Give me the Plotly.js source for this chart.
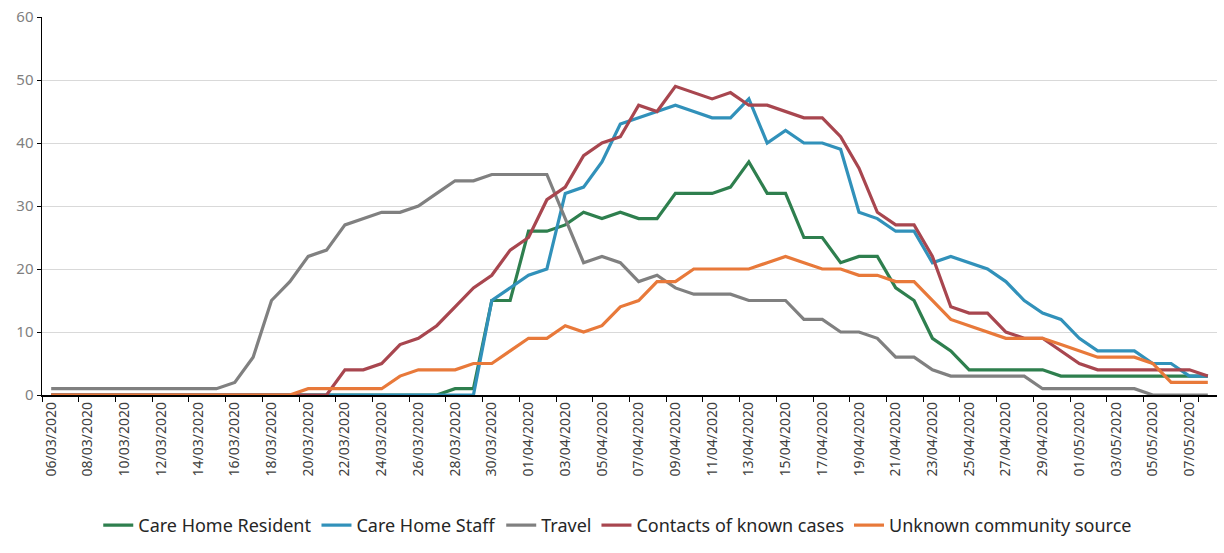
<!DOCTYPE html>
<html>
<head>
<meta charset="utf-8">
<script src="https://cdn.plot.ly/plotly-3.0.1.min.js"></script>
<style>html,body{margin:0;padding:0;background:#fff;}#chart{width:1224px;height:553px;}</style>
</head>
<body>
<div id="chart"></div>
<script>
const dates = [
"06/03/2020","07/03/2020","08/03/2020","09/03/2020","10/03/2020","11/03/2020","12/03/2020","13/03/2020",
"14/03/2020","15/03/2020","16/03/2020","17/03/2020","18/03/2020","19/03/2020","20/03/2020","21/03/2020",
"22/03/2020","23/03/2020","24/03/2020","25/03/2020","26/03/2020","27/03/2020","28/03/2020","29/03/2020",
"30/03/2020","31/03/2020","01/04/2020","02/04/2020","03/04/2020","04/04/2020","05/04/2020","06/04/2020",
"07/04/2020","08/04/2020","09/04/2020","10/04/2020","11/04/2020","12/04/2020","13/04/2020","14/04/2020",
"15/04/2020","16/04/2020","17/04/2020","18/04/2020","19/04/2020","20/04/2020","21/04/2020","22/04/2020",
"23/04/2020","24/04/2020","25/04/2020","26/04/2020","27/04/2020","28/04/2020","29/04/2020","30/04/2020",
"01/05/2020","02/05/2020","03/05/2020","04/05/2020","05/05/2020","06/05/2020","07/05/2020","08/05/2020"
];
const careHomeResident = [
0,0,0,0,0,0,0,0,0,0,0,0,0,0,0,0,0,0,0,0,0,0,1,1,
15,15,26,26,27,29,28,29,28,28,32,32,32,33,37,32,32,25,25,21,22,22,17,15,9,7,
4,4,4,4,4,3,3,3,3,3,3,3,3,3
];
const careHomeStaff = [
0,0,0,0,0,0,0,0,0,0,0,0,0,0,0,0,0,0,0,0,0,0,0,0,
15,17,19,20,32,33,37,43,44,45,46,45,44,44,47,40,42,40,40,39,29,28,26,26,21,22,
21,20,18,15,13,12,9,7,7,7,5,5,3,3
];
const travel = [
1,1,1,1,1,1,1,1,1,1,2,6,15,18,22,23,27,28,29,29,30,32,34,34,
35,35,35,35,28,21,22,21,18,19,17,16,16,16,15,15,15,12,12,10,10,9,6,6,4,3,
3,3,3,3,1,1,1,1,1,1,0,0,0,0
];
const contactsKnown = [
0,0,0,0,0,0,0,0,0,0,0,0,0,0,0,0,4,4,5,8,9,11,14,17,
19,23,25,31,33,38,40,41,46,45,49,48,47,48,46,46,45,44,44,41,36,29,27,27,22,14,
13,13,10,9,9,7,5,4,4,4,4,4,4,3
];
const unknownCommunity = [
0,0,0,0,0,0,0,0,0,0,0,0,0,0,1,1,1,1,1,3,4,4,4,5,
5,7,9,9,11,10,11,14,15,18,18,20,20,20,20,21,22,21,20,20,19,19,18,18,15,12,
11,10,9,9,9,8,7,6,6,6,5,2,2,2
];

const seriesNames = ["Care Home Resident","Care Home Staff","Travel","Contacts of known cases","Unknown community source"];
const seriesValues = [careHomeResident, careHomeStaff, travel, contactsKnown, unknownCommunity];
const seriesColors = ["#2E7F4E","#3191BA","#808080","#A8464F","#E8793A"];

const traces = seriesNames.map((n, k) => ({
  type: "scatter", mode: "lines", name: n,
  x: dates, y: seriesValues[k],
  line: {color: seriesColors[k], width: 3.2, shape: "linear"}
}));

const tickVals = dates.filter((d, i) => i % 2 === 0);

const layout = {
  width: 1224, height: 553,
  margin: {l: 42, r: 7, t: 17, b: 158},
  paper_bgcolor: "#ffffff", plot_bgcolor: "#ffffff",
  showlegend: true,
  legend: {orientation: "h", x: 0.49, xanchor: "center", y: -0.345, yanchor: "middle",
           font: {family: "Noto Sans, sans-serif", size: 18, color: "#262626"},
           itemwidth: 30, tracegroupgap: 0},
  xaxis: {
    type: "category", range: [-0.5, 63.5],
    tickmode: "array", tickvals: tickVals, ticktext: tickVals,
    tickson: "boundaries", ticks: "outside", ticklen: 5, tickcolor: "#000",
    tickangle: -90, tickfont: {family: "Noto Sans, sans-serif", size: 14, color: "#404040"},
    showgrid: false, showline: true, linecolor: "#000", linewidth: 1.5, zeroline: false
  },
  yaxis: {
    range: [0, 60], dtick: 10, tick0: 0,
    showgrid: true, gridcolor: "#d9d9d9", gridwidth: 1,
    showline: true, linecolor: "#000", linewidth: 1.5, zeroline: false,
    ticks: "outside", ticklen: 4, tickcolor: "#000",
    tickfont: {family: "Noto Sans, sans-serif", size: 15, color: "#7f7f7f"}
  }
};

Plotly.newPlot("chart", traces, layout, {displayModeBar: false, staticPlot: true});
</script>
</body>
</html>
